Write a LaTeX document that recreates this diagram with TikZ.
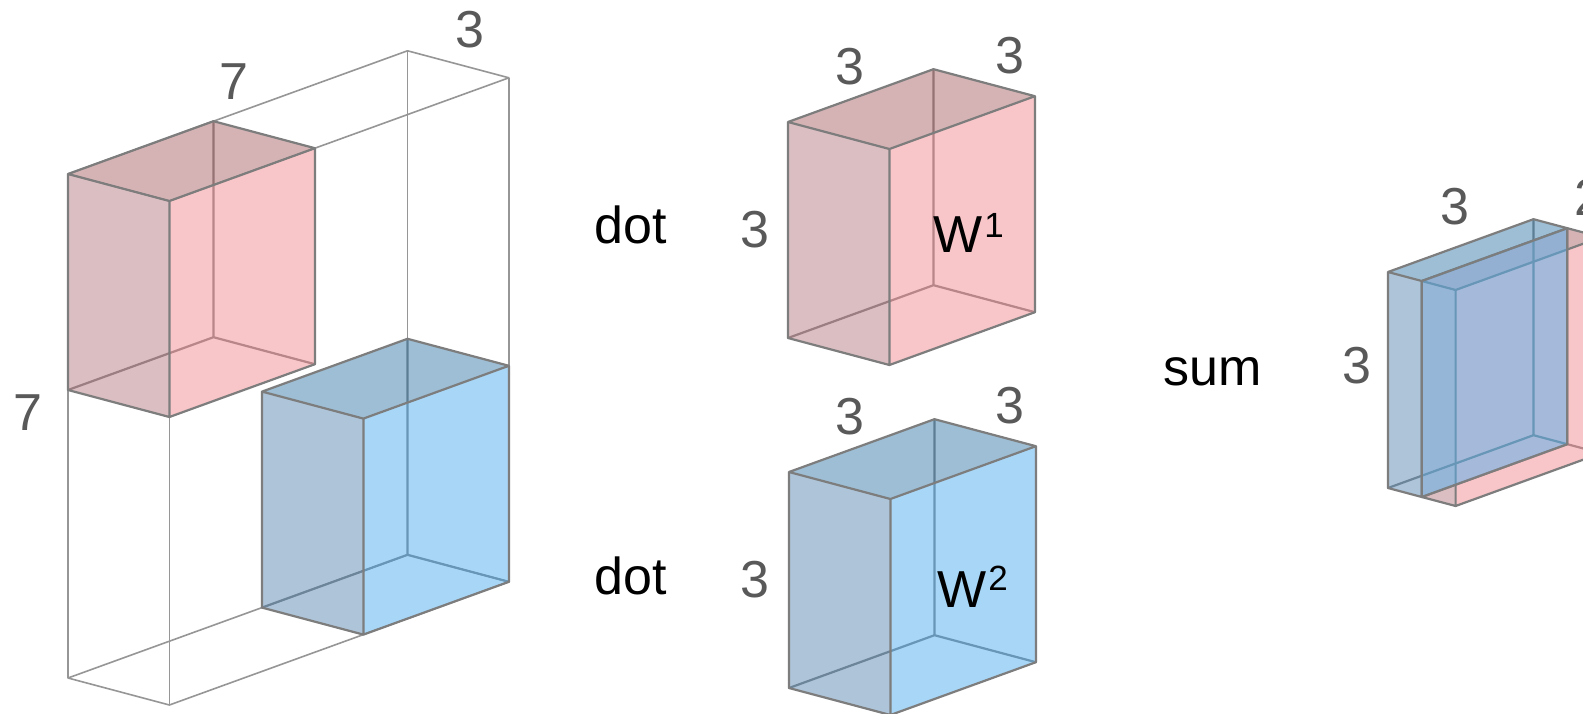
\documentclass[tikz,border=0pt]{standalone}
\usepackage{fontspec}
\setmainfont{Liberation Sans}
\definecolor{edgegrey}{RGB}{125,125,125}
\definecolor{wiregrey}{RGB}{150,150,150}
\definecolor{labgrey}{RGB}{89,89,89}
\definecolor{pkL}{RGB}{185,127,133}
\definecolor{pkR}{RGB}{243,141,147}
\definecolor{pkT}{RGB}{173,105,109}
\definecolor{blL}{RGB}{95,141,181}
\definecolor{blR}{RGB}{83,175,239}
\definecolor{blT}{RGB}{61,127,171}
\tikzset{
  edge/.style={draw=edgegrey, line width=2.2pt, line join=round, line cap=round},
  wire/.style={draw=wiregrey, line width=1.6pt, line join=round},
  pinkleft/.style={fill=pkL, fill opacity=0.5},
  pinkright/.style={fill=pkR, fill opacity=0.5},
  pinktop/.style={fill=pkT, fill opacity=0.5},
  blueleft/.style={fill=blL, fill opacity=0.5},
  blueright/.style={fill=blR, fill opacity=0.5},
  bluetop/.style={fill=blT, fill opacity=0.5},
  lab/.style={text=labgrey, font=\fontsize{52}{60}\selectfont, inner sep=0pt},
  word/.style={text=black, font=\fontsize{52}{60}\selectfont, inner sep=0pt},
  iso/.style={x={(48.5pt,17.6pt)}, y={(33.8pt,-9pt)}, z={(0pt,72pt)}}
}
% #1 x0, #2 x1, #3 y0, #4 y1, #5 z0, #6 z1, #7 colour prefix
\newcommand{\drawcuboid}[7]{%
  \draw[edge] (#2,#3,#5) -- (#1,#3,#5) (#2,#3,#5) -- (#2,#4,#5) (#2,#3,#5) -- (#2,#3,#6);
  \fill[#7left] (#1,#3,#5) -- (#1,#4,#5) -- (#1,#4,#6) -- (#1,#3,#6) -- cycle;
  \fill[#7right] (#1,#4,#5) -- (#2,#4,#5) -- (#2,#4,#6) -- (#1,#4,#6) -- cycle;
  \fill[#7top] (#1,#3,#6) -- (#1,#4,#6) -- (#2,#4,#6) -- (#2,#3,#6) -- cycle;
  \draw[edge] (#1,#3,#5) -- (#1,#4,#5) -- (#2,#4,#5) -- (#2,#4,#6) -- (#2,#3,#6) -- (#1,#3,#6) -- cycle
    (#1,#4,#5) -- (#1,#4,#6) -- (#2,#4,#6) (#1,#4,#6) -- (#1,#3,#6);
}
\begin{document}
\begin{tikzpicture}[x=1pt,y=1pt]
\useasboundingbox (0,0) rectangle (1583,-714);
\clip (0,0) rectangle (1583,-714);
\fill[white] (0,0) rectangle (1583,-714);

% input volume 7x7x3 with two windows
\begin{scope}[shift={(68pt,-678pt)}, iso]
  \draw[wire] (0,0,0) -- (0,3,0) -- (7,3,0) -- (7,0,0) -- cycle;
  \draw[wire] (0,0,7) -- (0,3,7) -- (7,3,7) -- (7,0,7) -- cycle;
  \draw[wire] (0,0,0) -- (0,0,7) (0,3,0) -- (0,3,7) (7,3,0) -- (7,3,7) (7,0,0) -- (7,0,7);
  \drawcuboid{0}{3}{0}{3}{4}{7}{pink}
  \drawcuboid{4}{7}{0}{3}{0}{3}{blue}
\end{scope}

% filter W1
\begin{scope}[shift={(788pt,-338pt)}, iso]
  \drawcuboid{0}{3}{0}{3}{0}{3}{pink}
\end{scope}

% filter W2
\begin{scope}[shift={(789pt,-688pt)}, iso]
  \drawcuboid{0}{3}{0}{3}{0}{3}{blue}
\end{scope}

% output 3x3x2
\begin{scope}[shift={(1388pt,-488pt)}, iso]
  \drawcuboid{0}{3}{1}{2}{0}{3}{pink}
  \drawcuboid{0}{3}{0}{1}{0}{3}{blue}
\end{scope}

% labels
\node[lab] (inD) at (470,-30) {3};
\node[lab] (inW) at (234,-82) {7};
\node[lab] (inH) at (28,-413) {7};

\node[word] (dotA) at (631,-225) {dot};
\node[word] (dotB) at (631,-576) {dot};
\node[lab] (w1H) at (755,-230) {3};
\node[lab] (w1W) at (850,-67) {3};
\node[lab] (w1D) at (1010,-56) {3};
\node[lab] (w2H) at (755,-580) {3};
\node[lab] (w2W) at (850,-417) {3};
\node[lab] (w2D) at (1010,-406) {3};
\node[word, anchor=base west] (w1name) at (933,-253) {W\kern2pt\raisebox{15pt}{\fontsize{35}{40}\selectfont 1}};
\node[word, anchor=base west] (w2name) at (937,-607) {W\kern2pt\raisebox{17pt}{\fontsize{35}{40}\selectfont 2}};

\node[word] (sumL) at (1213,-372) {sum};
\node[lab] (outH) at (1357,-366) {3};
\node[lab] (outW) at (1455,-207) {3};
\node[lab] (outD) at (1589,-197) {2};
\end{tikzpicture}
\end{document}
